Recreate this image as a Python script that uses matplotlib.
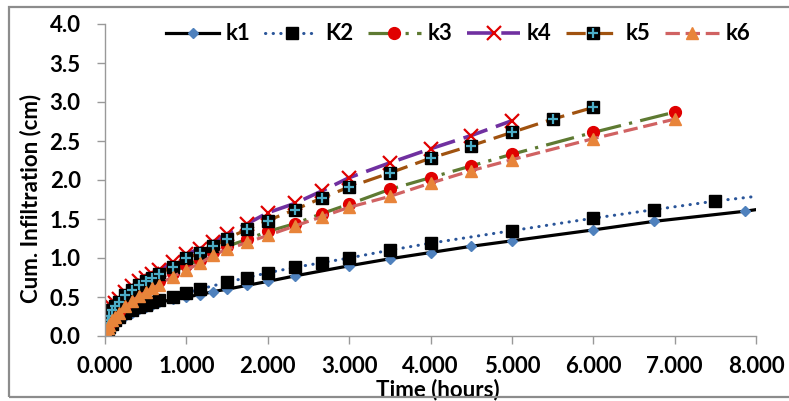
import matplotlib
matplotlib.use("Agg")
import matplotlib.pyplot as plt
from matplotlib.patches import Rectangle
from matplotlib.legend_handler import HandlerTuple

plt.rcParams['font.family'] = ['Lato', 'DejaVu Sans']
plt.rcParams['font.weight'] = 'bold'

# ---------------- data (time in hours, cumulative infiltration in cm) -------------
t_k1 = [0.017, 0.033, 0.05, 0.083, 0.117, 0.167, 0.25, 0.333, 0.417, 0.5, 0.583, 0.667,
        0.833, 1.0, 1.167, 1.333, 1.5, 1.75, 2.0, 2.333, 3.0, 3.5, 4.0, 4.5, 5.0, 6.0,
        6.75, 7.87, 8.0]
k1 = [0.04, 0.07, 0.10, 0.14, 0.17, 0.21, 0.26, 0.30, 0.34, 0.37, 0.40, 0.43,
      0.47, 0.50, 0.53, 0.57, 0.60, 0.65, 0.70, 0.77, 0.90, 0.99, 1.07, 1.15, 1.22, 1.36,
      1.47, 1.60, 1.62]

t_k2 = [0.017, 0.033, 0.05, 0.083, 0.117, 0.167, 0.25, 0.333, 0.417, 0.5, 0.583, 0.667,
        0.833, 1.0, 1.167, 1.5, 1.75, 2.0, 2.333, 2.667, 3.0, 3.5, 4.0, 5.0, 6.0, 6.75,
        7.5, 8.0]
k2 = [0.05, 0.09, 0.12, 0.16, 0.20, 0.24, 0.29, 0.33, 0.37, 0.40, 0.43, 0.46,
      0.50, 0.55, 0.60, 0.69, 0.75, 0.81, 0.88, 0.94, 1.00, 1.10, 1.19, 1.35, 1.51, 1.62,
      1.73, 1.79]

t_k3 = [0.017, 0.033, 0.05, 0.083, 0.117, 0.167, 0.25, 0.333, 0.417, 0.5, 0.583, 0.667,
        0.833, 1.0, 1.167, 1.333, 1.5, 1.75, 2.0, 2.333, 2.667, 3.0, 3.5, 4.0, 4.5, 5.0,
        6.0, 7.0]
k3 = [0.07, 0.12, 0.16, 0.22, 0.27, 0.32, 0.40, 0.47, 0.54, 0.59, 0.65, 0.70,
      0.81, 0.91, 0.97, 1.08, 1.15, 1.24, 1.34, 1.44, 1.57, 1.69, 1.88, 2.03, 2.18, 2.33,
      2.61, 2.87]

t_k4 = [0.017, 0.033, 0.05, 0.083, 0.117, 0.167, 0.25, 0.333, 0.417, 0.5, 0.583, 0.667,
        0.833, 1.0, 1.167, 1.333, 1.5, 1.75, 2.0, 2.333, 2.667, 3.0, 3.5, 4.0, 4.5, 5.0]
k4 = [0.15, 0.24, 0.30, 0.37, 0.42, 0.48, 0.56, 0.64, 0.70, 0.75, 0.80, 0.85,
      0.95, 1.05, 1.12, 1.21, 1.31, 1.44, 1.58, 1.70, 1.86, 2.03, 2.22, 2.40, 2.57, 2.76]

t_k5 = [0.017, 0.033, 0.05, 0.083, 0.117, 0.167, 0.25, 0.333, 0.417, 0.5, 0.583, 0.667,
        0.833, 1.0, 1.167, 1.333, 1.5, 1.75, 2.0, 2.333, 2.667, 3.0, 3.5, 4.0, 4.5, 5.0,
        5.5, 6.0]
k5 = [0.12, 0.20, 0.26, 0.33, 0.38, 0.44, 0.52, 0.59, 0.65, 0.70, 0.75, 0.80,
      0.89, 1.00, 1.06, 1.15, 1.25, 1.37, 1.48, 1.62, 1.77, 1.91, 2.09, 2.28, 2.44, 2.61,
      2.78, 2.93]

t_k6 = [0.017, 0.033, 0.05, 0.083, 0.117, 0.167, 0.25, 0.333, 0.417, 0.5, 0.583, 0.667,
        0.833, 1.0, 1.167, 1.333, 1.5, 1.75, 2.0, 2.333, 2.667, 3.0, 3.5, 4.0, 4.5, 5.0,
        6.0, 7.0]
k6 = [0.05, 0.10, 0.14, 0.20, 0.25, 0.30, 0.38, 0.45, 0.51, 0.56, 0.61, 0.66,
      0.76, 0.85, 0.93, 1.04, 1.11, 1.20, 1.29, 1.41, 1.53, 1.65, 1.79, 1.96, 2.12, 2.26,
      2.53, 2.78]

labels = ['k1', 'K2', 'k3', 'k4', 'k5', 'k6']
x_ticks = [0, 1, 2, 3, 4, 5, 6, 7, 8]
y_ticks = [0.0, 0.5, 1.0, 1.5, 2.0, 2.5, 3.0, 3.5, 4.0]

FS = 16

# ---------------- figure --------------------------------------------------------
fig = plt.figure(figsize=(7.89, 4.01), dpi=100)
ax = fig.add_axes([105/789, 65/401, 651/789, 312/401])

h1, = ax.plot(t_k1, k1, color='black', lw=2.3, marker='D', ms=5.5,
              mfc='#4F81BD', mec='#4F81BD', markevery=list(range(len(t_k1) - 1)))
h2, = ax.plot(t_k2, k2, color='#2A5599', lw=2.2, dashes=(0.1, 2.4),
              dash_capstyle='round', marker='s', ms=8.5, mfc='black', mec='black',
              markevery=list(range(len(t_k2) - 1)))
h3, = ax.plot(t_k3, k3, color='#5E7A32', lw=2.3, dashes=(9, 2.6, 1, 2.6),
              marker='o', ms=8.5, mfc='#E00000', mec='#E00000')
h4, = ax.plot(t_k4, k4, color='#7030A0', lw=2.6, dashes=(7, 2.5),
              marker='x', ms=10, mec='#E00000', mew=1.6)
h5, = ax.plot(t_k5, k5, color='#A0520F', lw=2.3, dashes=(6, 2.6),
              marker='s', ms=8.5, mfc='black', mec='black')
h5b, = ax.plot(t_k5, k5, ls='none', marker='+', ms=6.5, mec='#4BACC6', mew=1.6)
h6, = ax.plot(t_k6, k6, color='#D06262', lw=2.3, dashes=(4.5, 1.8),
              marker='^', ms=8.5, mfc='#E8843A', mec='#E8843A')

ax.set_xlim(0, 8)
ax.set_ylim(0, 4)
ax.set_xticks(x_ticks)
ax.set_xticklabels([f'{v:.3f}' for v in x_ticks])
ax.set_yticks(y_ticks)
ax.set_yticklabels([f'{v:.1f}' for v in y_ticks])

for s in ['top', 'right']:
    ax.spines[s].set_visible(False)
for s in ['left', 'bottom']:
    ax.spines[s].set_color('#999999')
    ax.spines[s].set_linewidth(1.0)
ax.tick_params(axis='both', colors='#999999', labelcolor='black', labelsize=FS,
               length=5.5, width=1.0)
ax.tick_params(axis='x', pad=9)
ax.tick_params(axis='y', pad=12)
for lab in ax.get_xticklabels() + ax.get_yticklabels():
    lab.set_fontweight('bold')

ax.set_xlabel('Time (hours)', fontsize=FS, fontweight='bold', va='top')
ax.set_ylabel('Cum. Infiltration (cm)', fontsize=FS, fontweight='bold')
ax.xaxis.set_label_coords(0.511, -0.138)
ax.yaxis.set_label_coords(-0.097, 0.442)

leg = fig.legend([h1, h2, h3, h4, (h5, h5b), h6], labels,
                 handler_map={tuple: HandlerTuple(ndivide=1)},
                 loc='center', bbox_to_anchor=(458/789, 1 - 34/401), ncol=6,
                 frameon=False, handlelength=2.4, handletextpad=0.3,
                 columnspacing=0.65, prop={'weight': 'bold', 'size': FS})

fig.patches.append(Rectangle((9/789, 4/401), 1.0, (397 - 7) / 401,
                             transform=fig.transFigure, fill=False,
                             edgecolor='#8C8C8C', lw=1.6))

fig.savefig('out.png', dpi=100)
